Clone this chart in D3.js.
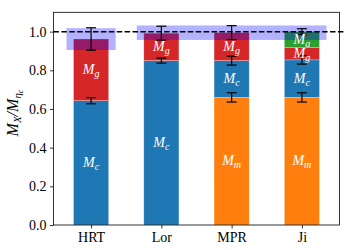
<!DOCTYPE html>
<html>
<head>
<meta charset="utf-8">
<script src="https://cdn.jsdelivr.net/npm/d3@7"></script>
<style>
	body { margin: 0; background: #fff; }
	svg { display: block; }
</style>
</head>
<body>
<svg id="chart" width="357" height="250"></svg>
<script>
// Values
const categories = ["HRT", "Lor", "MPR", "Ji"];
const massMm = [0, 0, 0.66, 0.66];
const massMc = [0.643, 0.85, 0.19, 0.194];
const massMg = [0.319, 0.142, 0.145, 0.063];
const massMa = [0, 0, 0, 0.083];
// errors at the top of each stack level
const errMm = [0, 0, 0.024, 0.024];
const errMc = [0.016, 0.013, 0.023, 0.022];
const errTotal = [0.058, 0.036, 0.036, 0.015];
// shaded bands: [first category, last category, low, high]
const bands = [
	["HRT", "HRT", 0.905, 1.018],
	["Lor", "Ji", 0.957, 1.032],
];
const yTicks = [0, 0.2, 0.4, 0.6, 0.8, 1.0];
const refLine = 1.0;

const components = [
	{ key: "m", values: massMm, err: errMm, color: "#ff7f0e" },
	{ key: "c", values: massMc, err: errMc, color: "#1f77b4" },
	{ key: "g", values: massMg, err: null, color: "#d62728" },
	{ key: "a", values: massMa, err: null, color: "#2ca02c" },
];

const margin = { left: 53.5, right: 17.5, top: 12.3, bottom: 25 };
const width = 357, height = 250;
const barWidth = 0.5, bandHalf = 0.35;

const svg = d3.select("#chart");
const x = d3.scaleLinear([-0.535, 3.535], [margin.left, width - margin.right]);
const y = d3.scaleLinear([0, 1.1], [height - margin.bottom, margin.top]);

// stack segments
const segments = [];
const errorBars = [];
categories.forEach((cat, i) => {
	let base = 0;
	components.forEach((c) => {
		const v = c.values[i];
		if (v > 0) {
			segments.push({ i, key: c.key, y0: base, y1: base + v, color: c.color });
			base += v;
			if (c.err && c.err[i] > 0) errorBars.push({ i, value: base, err: c.err[i] });
		}
	});
	errorBars.push({ i, value: base, err: errTotal[i] });
});

const g = svg.append("g");

g.selectAll(".seg")
	.data(segments)
	.join("rect")
	.classed("seg", true)
	.attr("x", (d) => x(d.i - barWidth / 2))
	.attr("width", x(barWidth) - x(0))
	.attr("y", (d) => y(d.y1))
	.attr("height", (d) => y(d.y0) - y(d.y1))
	.attr("fill", (d) => d.color)
	.attr("stroke", "white")
	.attr("stroke-opacity", 0.45)
	.attr("stroke-width", 0.6);

g.selectAll(".band")
	.data(bands)
	.join("rect")
	.classed("band", true)
	.attr("x", (d) => x(categories.indexOf(d[0]) - bandHalf))
	.attr("width", (d) => x(categories.indexOf(d[1]) + bandHalf) - x(categories.indexOf(d[0]) - bandHalf))
	.attr("y", (d) => y(d[3]))
	.attr("height", (d) => y(d[2]) - y(d[3]))
	.attr("fill", "#0000ff")
	.attr("fill-opacity", 0.3);

g.append("line")
	.attr("x1", x.range()[0])
	.attr("x2", x.range()[1] + 4)
	.attr("y1", y(refLine))
	.attr("y2", y(refLine))
	.attr("stroke", "black")
	.attr("stroke-width", 1.5)
	.attr("stroke-dasharray", "5.5,2.4");

// error bars
const eb = g.selectAll(".err").data(errorBars).join("g").classed("err", true);
eb.append("line")
	.attr("x1", (d) => x(d.i)).attr("x2", (d) => x(d.i))
	.attr("y1", (d) => y(d.value + d.err)).attr("y2", (d) => y(d.value - d.err));
eb.selectAll(".cap")
	.data((d) => [d.value + d.err, d.value - d.err].map((v) => ({ i: d.i, v })))
	.join("line")
	.attr("x1", (d) => x(d.i) - 5).attr("x2", (d) => x(d.i) + 5)
	.attr("y1", (d) => y(d.v)).attr("y2", (d) => y(d.v));
eb.selectAll("line").attr("stroke", "black").attr("stroke-width", 1.2);

// segment labels
const lab = g.selectAll(".lab")
	.data(segments)
	.join("text")
	.classed("lab", true)
	.attr("x", (d) => x(d.i))
	.attr("y", (d) => y((d.y0 + d.y1) / 2) + 4)
	.attr("text-anchor", "middle")
	.attr("fill", "white")
	.attr("font-family", "Liberation Serif, serif")
	.attr("font-style", "italic")
	.attr("font-size", 14);
lab.append("tspan").text("M");
lab.append("tspan").attr("dy", 3).attr("font-size", 10).text((d) => d.key);

// axes
const yAxis = g.append("g")
	.attr("transform", `translate(${margin.left},0)`)
	.call(d3.axisLeft(y).tickValues(yTicks).tickFormat(d3.format(".1f")).tickSize(3.5).tickPadding(3.5));
const xAxis = g.append("g")
	.attr("transform", `translate(0,${height - margin.bottom})`)
	.call(d3.axisBottom(x).tickValues(d3.range(categories.length)).tickFormat((i) => categories[i]).tickSize(3.5).tickPadding(3.5));
[yAxis, xAxis].forEach((a) => {
	a.select(".domain").remove();
	a.selectAll("text").attr("font-family", "Liberation Serif, serif").attr("font-size", 14).attr("fill", "black");
	a.selectAll(".tick line").attr("stroke", "black").attr("stroke-width", 0.8);
});

g.append("rect")
	.attr("x", margin.left)
	.attr("y", margin.top)
	.attr("width", width - margin.left - margin.right)
	.attr("height", height - margin.top - margin.bottom)
	.attr("fill", "none")
	.attr("stroke", "black")
	.attr("stroke-width", 0.8);

// y label
const yl = g.append("text")
	.attr("transform", `translate(18,113) rotate(-90)`)
	.attr("text-anchor", "middle")
	.attr("font-family", "Liberation Serif, serif")
	.attr("font-style", "italic")
	.attr("font-size", 16);
yl.append("tspan").text("M");
yl.append("tspan").attr("dy", 3).attr("font-size", 11).text("X");
yl.append("tspan").attr("dy", -3).text("/M");
yl.append("tspan").attr("dy", 3).attr("font-size", 11).text("η");
yl.append("tspan").attr("dy", 2).attr("font-size", 8).text("c");
</script>
</body>
</html>
